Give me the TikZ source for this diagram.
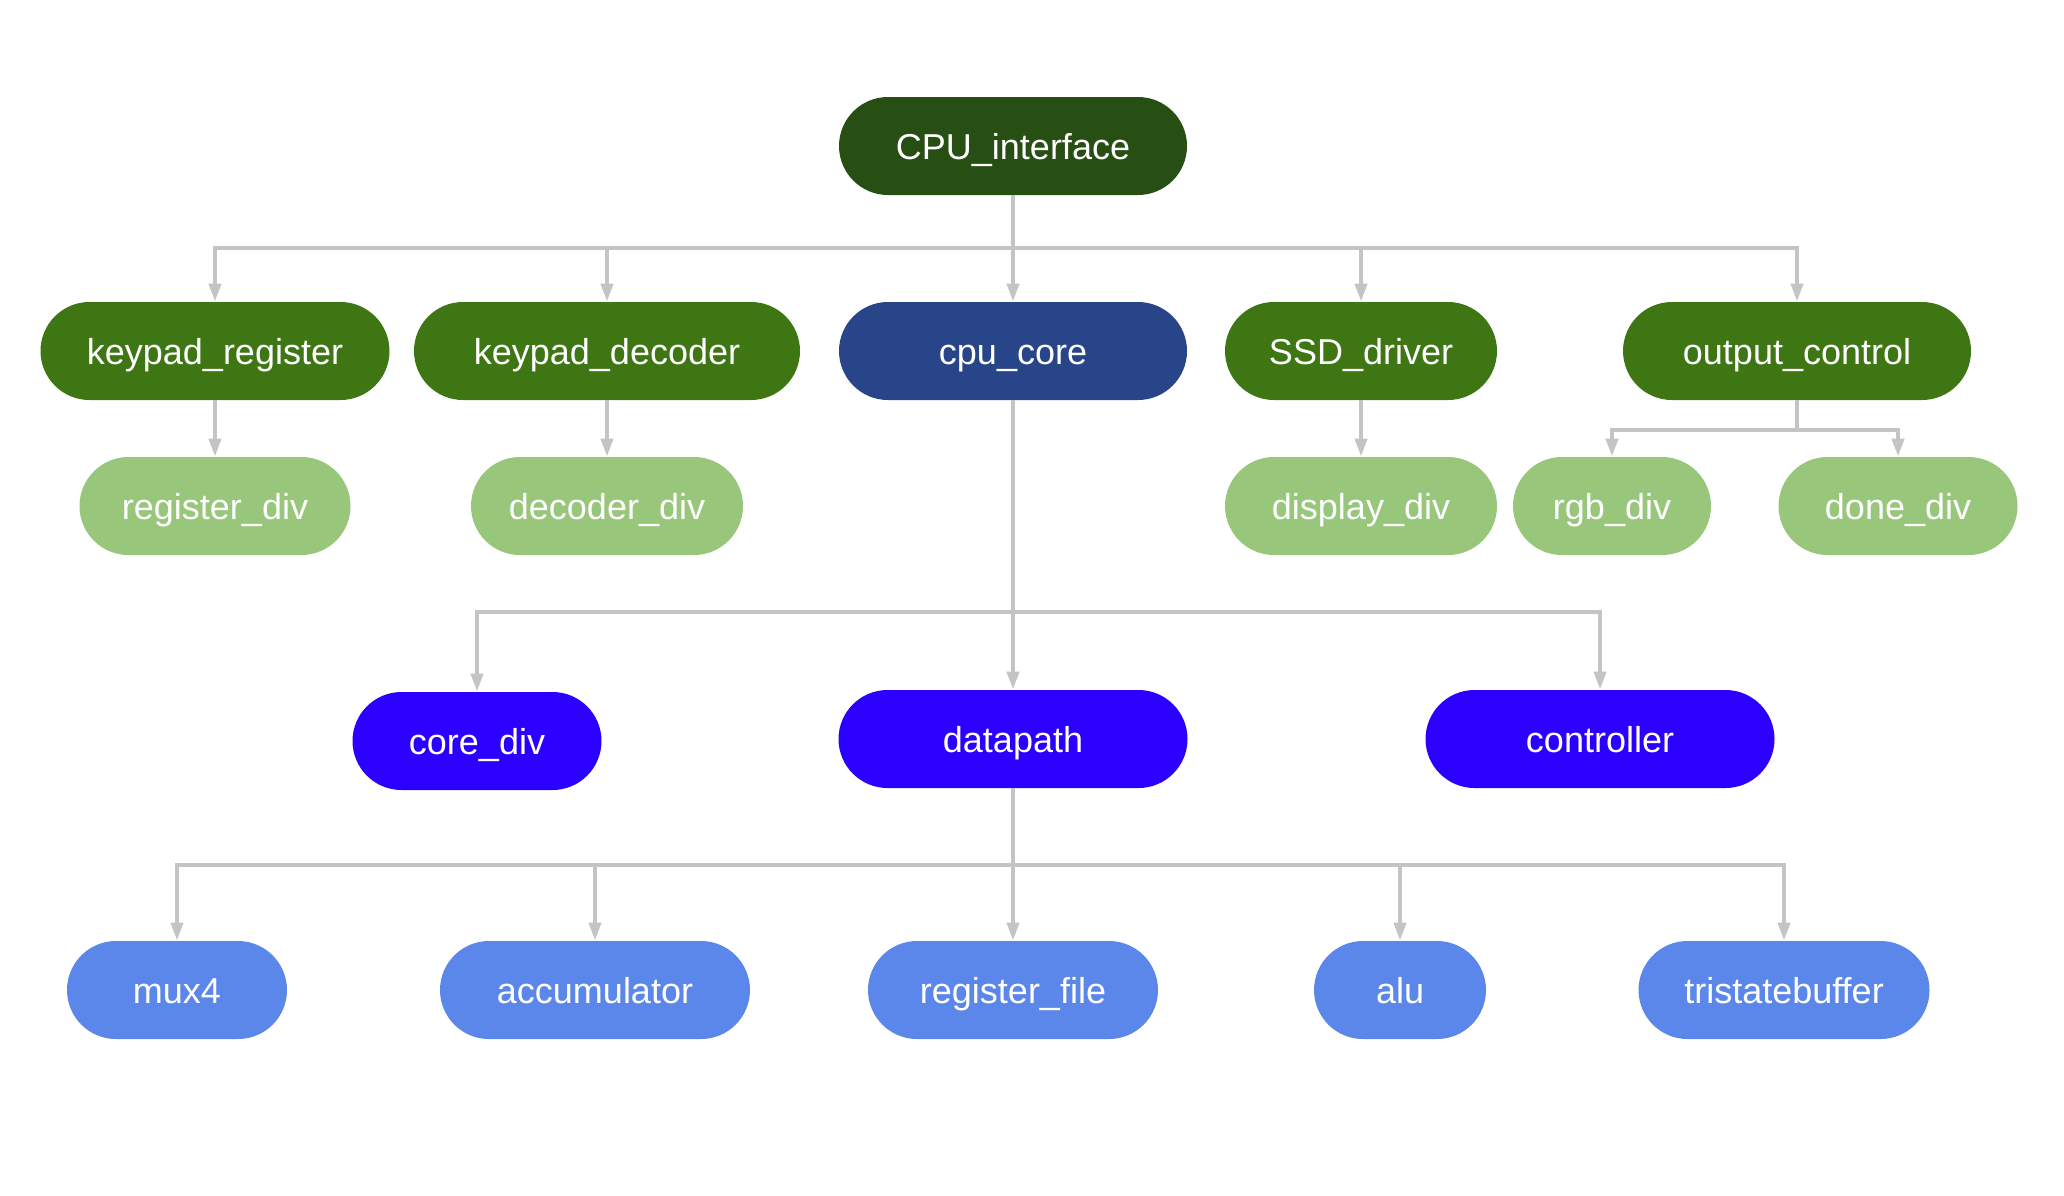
\documentclass[tikz,border=0pt]{standalone}
\usepackage{fontspec}
\setmainfont{Liberation Sans}
\usetikzlibrary{arrows.meta}

\definecolor{topgreen}{HTML}{274E13}
\definecolor{midgreen}{HTML}{3F7614}
\definecolor{lightgreen}{HTML}{98C67B}
\definecolor{coreblue}{HTML}{28458A}
\definecolor{purblue}{HTML}{2B00FF}
\definecolor{lightblue}{HTML}{5B87EA}
\definecolor{linkgray}{HTML}{C4C4C4}

\begin{document}
\begin{tikzpicture}[x=0.5pt,y=-0.5pt,
    pill/.style={rectangle, rounded corners=24.5pt, minimum height=49pt,
      inner sep=0pt, text=white, text height=15pt, text depth=2pt,
      font=\fontsize{18}{22}\selectfont},
    link/.style={draw=linkgray, line width=2pt, -{Triangle[width=6pt,length=9pt]}}]
      \useasboundingbox (0,0) rectangle (2064,1195);

      % top of the tree
      \node[pill, fill=topgreen, minimum width=174pt] (cpuif) at (1013,146) {CPU\_interface};

      % second row
      \node[pill, fill=midgreen, minimum width=174.5pt] (kreg) at (215,351) {keypad\_register};
      \node[pill, fill=midgreen, minimum width=193pt] (kdec) at (607,351) {keypad\_decoder};
      \node[pill, fill=coreblue, minimum width=174pt] (cpucore) at (1013,351) {cpu\_core};
      \node[pill, fill=midgreen, minimum width=136pt] (ssd) at (1361,351) {SSD\_driver};
      \node[pill, fill=midgreen, minimum width=174pt] (outctl) at (1797,351) {output\_control};

      % third row
      \node[pill, fill=lightgreen, minimum width=135.5pt] (regdiv) at (215,506) {register\_div};
      \node[pill, fill=lightgreen, minimum width=136pt] (decdiv) at (607,506) {decoder\_div};
      \node[pill, fill=lightgreen, minimum width=136pt] (dispdiv) at (1361,506) {display\_div};
      \node[pill, fill=lightgreen, minimum width=99pt] (rgbdiv) at (1612,506) {rgb\_div};
      \node[pill, fill=lightgreen, minimum width=119.5pt] (donediv) at (1898,506) {done\_div};

      % fourth row
      \node[pill, fill=purblue, minimum width=124.5pt] (corediv) at (477,741) {core\_div};
      \node[pill, fill=purblue, minimum width=174.5pt] (dpath) at (1013,739) {datapath};
      \node[pill, fill=purblue, minimum width=174.5pt] (ctrl) at (1600,739) {controller};

      % bottom row
      \node[pill, fill=lightblue, minimum width=110pt] (mux) at (177,990) {mux4};
      \node[pill, fill=lightblue, minimum width=155pt] (acc) at (595,990) {accumulator};
      \node[pill, fill=lightblue, minimum width=145pt] (rfile) at (1013,990) {register\_file};
      \node[pill, fill=lightblue, minimum width=86pt] (alu) at (1400,990) {alu};
      \node[pill, fill=lightblue, minimum width=145.5pt] (tsb) at (1784,990) {tristatebuffer};

      % bus heights
      \coordinate (busa) at (0,248);
      \coordinate (busb) at (0,430);
      \coordinate (busc) at (0,612);
      \coordinate (busd) at (0,865);

      % draw the connectors
      \foreach \c in {kreg,kdec,cpucore,ssd,outctl}
        \draw[link] (cpuif.south) |- (busa -| \c) -- (\c.north);
      \draw[link] (kreg.south) -- (regdiv.north);
      \draw[link] (kdec.south) -- (decdiv.north);
      \draw[link] (ssd.south) -- (dispdiv.north);
      \foreach \c in {rgbdiv,donediv}
        \draw[link] (outctl.south) |- (busb -| \c) -- (\c.north);
      \foreach \c in {corediv,dpath,ctrl}
        \draw[link] (cpucore.south) |- (busc -| \c) -- (\c.north);
      \foreach \c in {mux,acc,rfile,alu,tsb}
        \draw[link] (dpath.south) |- (busd -| \c) -- (\c.north);
    \end{tikzpicture}
\end{document}
